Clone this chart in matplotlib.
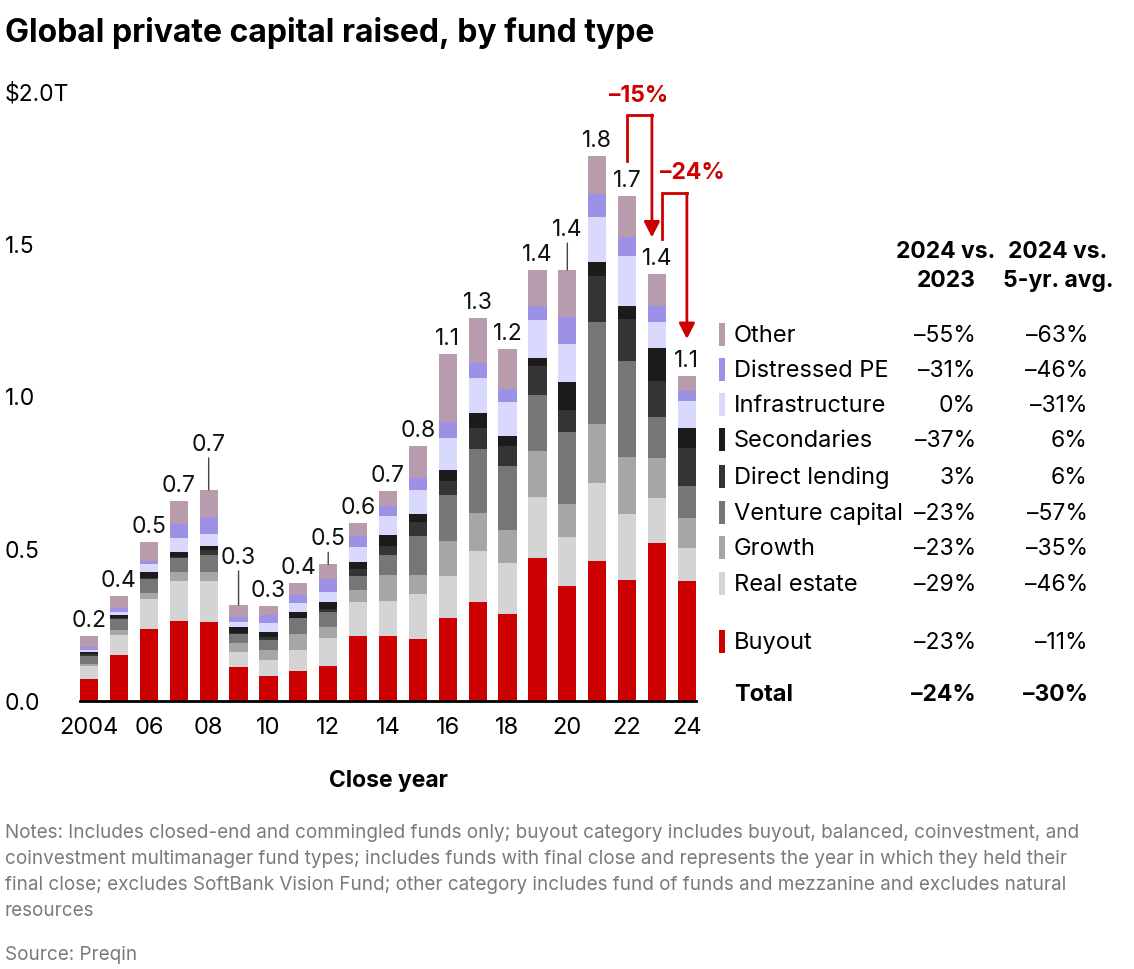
import matplotlib
matplotlib.use("Agg")
import matplotlib.pyplot as plt
from matplotlib.patches import Rectangle
import numpy as np

plt.rcParams['font.family'] = ['Inter', 'DejaVu Sans']

# data, $T, 2004-2024
years = list(range(2004, 2025))
buyout = [.072, .151, .236, .262, .260, .110, .081, .099, .115, .214, .212,
          .203, .272, .326, .284, .468, .376, .458, .398, .517, .395]
real_estate = [.044, .066, .098, .130, .135, .052, .055, .069, .090, .112, .117,
               .148, .137, .165, .168, .202, .161, .257, .215, .149, .106]
growth = [.005, .017, .019, .030, .029, .027, .032, .052, .037, .039, .084,
          .062, .114, .125, .109, .149, .109, .193, .186, .130, .098]
venture = [.028, .035, .047, .047, .055, .031, .033, .051, .051, .044, .066,
           .127, .154, .210, .208, .185, .235, .336, .317, .136, .107]
direct_lending = [.004, .002, .002, .002, .017, .003, .008, .002, .009, .024, .030,
                  .046, .045, .068, .068, .095, .073, .151, .136, .118, .122]
secondaries = [.009, .011, .020, .019, .013, .021, .016, .018, .021, .024, .035,
               .027, .036, .049, .033, .027, .091, .043, .044, .106, .067]
infrastructure = [.006, .009, .027, .043, .039, .014, .031, .030, .035, .047, .064,
                  .080, .103, .115, .109, .124, .125, .150, .164, .088, .090]
distressed = [.010, .013, .011, .047, .054, .019, .026, .027, .042, .038, .030,
              .037, .053, .050, .044, .046, .090, .074, .060, .052, .032]
other = [.036, .041, .062, .077, .090, .038, .031, .039, .048, .042, .052,
         .105, .224, .147, .131, .118, .153, .126, .137, .104, .050]

total_labels = ['0.2', '0.4', '0.5', '0.7', '0.7', '0.3', '0.3', '0.4', '0.5', '0.6', '0.7',
                '0.8', '1.1', '1.3', '1.2', '1.4', '1.4', '1.8', '1.7', '1.4', '1.1']

# table, top to bottom
table_names = ['Other', 'Distressed PE', 'Infrastructure', 'Secondaries', 'Direct lending',
               'Venture capital', 'Growth', 'Real estate', 'Buyout']
vs_2023 = ['–55%', '–31%', '0%', '–37%', '3%', '–23%', '–23%', '–29%', '–23%']
vs_5yr = ['–63%', '–46%', '–31%', '6%', '6%', '–57%', '–35%', '–46%', '–11%']
total_vs_2023 = '–24%'
total_vs_5yr = '–30%'

xtick_years = list(range(2004, 2025, 2))
xtick_labels = ['2004', '06', '08', '10', '12', '14', '16', '18', '20', '22', '24']
ytick_vals = [0, 0.5, 1.0, 1.5, 2.0]
ytick_labels = ['0.0', '0.5', '1.0', '1.5', '$2.0T']

# change arrows: (from year, to year, label)
changes = [(2022, 2023, '–15%'), (2023, 2024, '–24%')]

series = [buyout, real_estate, growth, venture, direct_lending,
          secondaries, infrastructure, distressed, other]
colors = ['#CC0000', '#D4D4D4', '#A6A6A6', '#767676', '#343434',
          '#1B1B1B', '#D9D9FD', '#9C91E6', '#B89BAD']
# colours in table order (top to bottom)
table_colors = colors[::-1]

RED = '#CC0000'
W, H = 1134, 970


def fx(px):
    return px / W


def fy(py):
    return 1 - py / H


fig = plt.figure(figsize=(W / 100, H / 100), dpi=100)
ax = fig.add_axes([fx(80), fy(702), (696 - 80) / W, 610 / H])

bottom = np.zeros(len(years))
for vals, c in zip(series, colors):
    ax.bar(years, vals, bottom=bottom, width=0.61, color=c, linewidth=0)
    bottom += np.array(vals)
totals = bottom

ax.set_xlim(2004 - 0.305, 2024 + 0.305)
ax.set_ylim(0, 2.0)
for s in ['top', 'right', 'left']:
    ax.spines[s].set_visible(False)
ax.spines['bottom'].set_linewidth(2)
ax.spines['bottom'].set_color('black')

ax.set_xticks(xtick_years)
ax.set_xticklabels(xtick_labels, fontsize=17)
ax.set_yticks(ytick_vals)
ax.set_yticklabels(ytick_labels, fontsize=16.5, ha='left')
ax.tick_params(axis='y', length=0, pad=54)
ax.tick_params(axis='x', length=0, pad=11)

# total labels, some lifted with a leader line
leader = {2008: 46, 2009: 48, 2012: 26, 2020: 41}
for yr, tot, lab in zip(years, totals, total_labels):
    lift = leader.get(yr, 16)
    ax.annotate(lab, (yr, tot), xytext=(0, lift), textcoords='offset pixels',
                ha='center', va='center', fontsize=16.5, color='#111111')
    if yr in leader:
        ax.annotate('', (yr, tot), xytext=(0, lift - 14), textcoords='offset pixels',
                    arrowprops=dict(arrowstyle='-', color='#444444', lw=1,
                                    shrinkA=0, shrinkB=0))

# bracket arrows for the change figures
for (y0, y1, lab), tx in zip(changes, [(-0.02, 0.065), (0.6, 0.07)]):
    t0 = totals[years.index(y0)]
    t1 = totals[years.index(y1)]
    xa = y0 + 0.0 if y0 == 2022 else y0 + 0.17
    xb = y1 - 0.17 if y0 == 2022 else y1
    top = t0 + 0.265
    ax.plot([xa, xa, xb], [t0 + 0.115, top, top], color=RED, lw=2,
            clip_on=False, solid_joinstyle='miter')
    ax.annotate('', (xb, t1 + 0.12), xytext=(xb, top),
                arrowprops=dict(arrowstyle='-|>,head_length=0.55,head_width=0.28',
                                color=RED, lw=2, mutation_scale=17,
                                shrinkA=0, shrinkB=0))
    ax.text((xa + xb) / 2 + tx[0], top + tx[1], lab, color=RED, fontsize=16.5,
            fontweight='bold', ha='center', va='center')

# title and axis title
fig.text(fx(5), fy(33), 'Global private capital raised, by fund type',
         fontsize=23, fontweight='bold', va='center', ha='left')
fig.text(fx(388), fy(781), 'Close year', fontsize=16.5, fontweight='bold',
         ha='center', va='center')

# table
fig.text(fx(946), fy(252), '2024 vs.', fontsize=16.5, fontweight='bold', ha='center', va='center')
fig.text(fx(946), fy(281), '2023', fontsize=16.5, fontweight='bold', ha='center', va='center')
fig.text(fx(1058), fy(252), '2024 vs.', fontsize=16.5, fontweight='bold', ha='center', va='center')
fig.text(fx(1058), fy(281), '5-yr. avg.', fontsize=16.5, fontweight='bold', ha='center', va='center')

row_y = [336, 371, 406, 441, 478, 514, 549, 585, 643]
for name, c, a, b, ry in zip(table_names, table_colors, vs_2023, vs_5yr, row_y):
    fig.add_artist(Rectangle((fx(719), fy(ry + 11)), 6 / W, 23 / H,
                             transform=fig.transFigure, color=c, lw=0))
    fig.text(fx(734), fy(ry), name, fontsize=17, ha='left', va='center')
    fig.text(fx(976), fy(ry), a, fontsize=16.5, ha='right', va='center')
    fig.text(fx(1088), fy(ry), b, fontsize=16.5, ha='right', va='center')
fig.text(fx(734), fy(695), 'Total', fontsize=17, fontweight='bold', ha='left', va='center')
fig.text(fx(976), fy(695), total_vs_2023, fontsize=16.5, fontweight='bold', ha='right', va='center')
fig.text(fx(1088), fy(695), total_vs_5yr, fontsize=16.5, fontweight='bold', ha='right', va='center')

# notes
notes = [
    'Notes: Includes closed-end and commingled funds only; buyout category includes buyout, balanced, coinvestment, and',
    'coinvestment multimanager fund types; includes funds with final close and represents the year in which they held their',
    'final close; excludes SoftBank Vision Fund; other category includes fund of funds and mezzanine and excludes natural',
    'resources',
]
for i, line in enumerate(notes):
    fig.text(fx(5), fy(833 + 26 * i), line, fontsize=13.6, color='#7A7A7A',
             ha='left', va='center')
fig.text(fx(5), fy(955), 'Source: Preqin', fontsize=13.6, color='#7A7A7A',
         ha='left', va='center')

fig.savefig('out.png', dpi=100, facecolor='white')
